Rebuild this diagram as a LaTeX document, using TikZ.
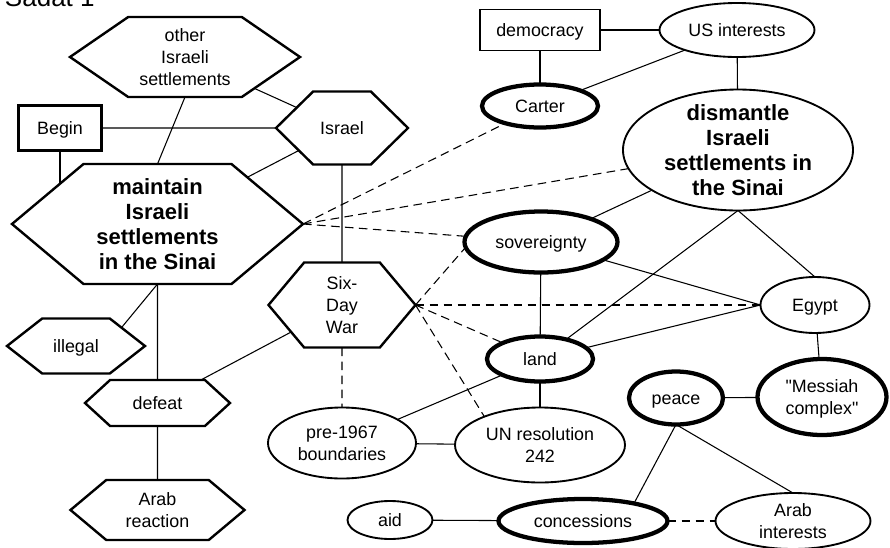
\documentclass[tikz,border=0pt]{standalone}
\usepackage{fontspec}
\newfontfamily\lsans{Liberation Sans}
\usetikzlibrary{shapes.geometric,shapes.symbols}
\newcommand\lns[2]{\raisebox{#1}{\begin{tabular}[t]{@{}c@{}}#2\end{tabular}}}
\begin{document}
\begin{tikzpicture}[x=0.75pt,y=-0.75pt,
  every node/.style={outer sep=0pt, font=\lsans\fontsize{13.4}{16.25}\selectfont, text height=9.6pt, text depth=0pt},
  hexa/.style={signal, signal to=west and east, draw, line width=1.8pt, inner sep=0pt, signal pointer angle=#1},
  oval/.style={ellipse, draw, line width=1.4pt, inner sep=-30pt},
  thickoval/.style={ellipse, draw, line width=3.2pt, inner sep=-30pt},
  boxnode/.style={rectangle, draw, inner sep=0pt},
  bigtext/.style={font=\lsans\bfseries\fontsize{16.5}{18.9}\selectfont, text height=11.8pt},
  conn/.style={line width=0.8pt},
  dconn/.style={line width=0.8pt, dash pattern=on 6.5pt off 4pt}
]
\useasboundingbox (0,0) rectangle (890,547);

\node[anchor=base west, font=\lsans\fontsize{19.5}{22}\selectfont, inner sep=0pt, text height={}, text depth={}] (title) at (5,6) {Sadat 1};

% hexagons
\node[hexa=69, minimum width=172.5pt, minimum height=60pt] (other) at (185,57) {\lns{16.25pt}{other\\Israeli\\settlements}};
\node[hexa=89, minimum width=99pt, minimum height=54.75pt] (israel) at (342,128) {Israel};
\node[hexa=80, minimum width=218.25pt, minimum height=90pt, bigtext] (maintain) at (157.5,224) {\lns{28.35pt}{maintain\\Israeli\\settlements\\in the Sinai}};
\node[hexa=100, minimum width=110.25pt, minimum height=63.75pt] (six) at (342,305) {\lns{16.25pt}{Six-\\Day\\War}};
\node[hexa=76, minimum width=103.5pt, minimum height=41.25pt] (illegal) at (76,346) {illegal};
\node[hexa=85, minimum width=108.75pt, minimum height=34.5pt] (defeat) at (157.5,403) {defeat};
\node[hexa=80, minimum width=130.5pt, minimum height=45pt] (arabreact) at (157.5,510) {\lns{8.125pt}{Arab\\reaction}};

% rectangles
\node[boxnode, line width=1.9pt, minimum width=62pt, minimum height=33.5pt] (begin) at (60,128) {Begin};
\node[boxnode, line width=0.9pt, minimum width=90pt, minimum height=30.75pt] (democracy) at (540,30) {democracy};

% ellipses
\node[oval, minimum width=111pt, minimum height=53.25pt] (pre) at (342,443) {\lns{8.125pt}{pre-1967\\boundaries}};
\node[oval, minimum width=63.75pt, minimum height=28.5pt] (aid) at (390,520) {aid};
\node[oval, minimum width=116.25pt, minimum height=40.5pt] (us) at (737,30) {US interests};
\node[thickoval, minimum width=87pt, minimum height=32.25pt] (carter) at (540,106) {Carter};
\node[oval, minimum width=172.5pt, minimum height=90.75pt, bigtext] (dismantle) at (738,150) {\lns{28.35pt}{dismantle\\Israeli\\settlements in\\the Sinai}};
\node[thickoval, minimum width=114.75pt, minimum height=45.75pt] (sov) at (541,242) {sovereignty};
\node[oval, minimum width=81.75pt, minimum height=42pt] (egypt) at (815,305) {Egypt};
\node[thickoval, minimum width=79.5pt, minimum height=33.75pt] (land) at (540,359) {land};
\node[thickoval, minimum width=70.5pt, minimum height=39.75pt] (peace) at (676,398) {peace};
\node[thickoval, minimum width=96.75pt, minimum height=57pt] (messiah) at (822,397) {\lns{8.125pt}{"Messiah\\complex"}};
\node[oval, minimum width=127.5pt, minimum height=56.25pt] (un) at (540,445) {\lns{8.125pt}{UN resolution\\242}};
\node[thickoval, minimum width=126.75pt, minimum height=33pt] (conc) at (583,521) {concessions};
\node[oval, minimum width=116.25pt, minimum height=42pt] (arabint) at (793,521) {\lns{8.125pt}{Arab\\interests}};

% solid connectors
\draw[conn] (other) -- (israel);
\draw[conn] (other.south) -- (maintain.north);
\draw[conn] (begin) -- (israel);
\draw[conn] (begin.south) -- (begin.south |- maintain.157);
\draw[conn] (israel) -- (maintain);
\draw[conn] (israel) -- (six);
\draw[conn] (maintain.south) -- (illegal.22);
\draw[conn] (maintain) -- (defeat);
\draw[conn] (defeat) -- (six);
\draw[conn] (defeat) -- (arabreact);
\draw[conn] (democracy) -- (us);
\draw[conn] (democracy) -- (carter);
\draw[conn] (us) -- (carter);
\draw[conn] (us) -- (dismantle);
\draw[conn] (dismantle) -- (sov);
\draw[conn] (dismantle.south) -- (land);
\draw[conn] (dismantle.south) -- (egypt.north);
\draw[conn] (sov) -- (land);
\draw[conn] (sov) -- (egypt.west);
\draw[conn] (land) -- (egypt.west);
\draw[conn] (egypt) -- (messiah);
\draw[conn] (land) -- (un);
\draw[conn] (land) -- (pre);
\draw[conn] (pre) -- (un);
\draw[conn] (peace) -- (messiah);
\draw[conn] (peace.south) -- (conc.19);
\draw[conn] (peace.south) -- (arabint.north);
\draw[conn] (aid) -- (conc);

% dashed connectors
\draw[dconn] (maintain.east) -- (carter);
\draw[dconn] (maintain.east) -- (dismantle);
\draw[dconn] (maintain.east) -- (sov);
\draw[dconn] (six.east) -- (sov.184);
\draw[dconn] (six.east) -- (egypt.west);
\draw[dconn] (six.east) -- (land);
\draw[dconn] (six.east) -- (un.153);
\draw[dconn] (six) -- (pre);
\draw[dconn] (conc) -- (arabint);
\end{tikzpicture}
\end{document}
